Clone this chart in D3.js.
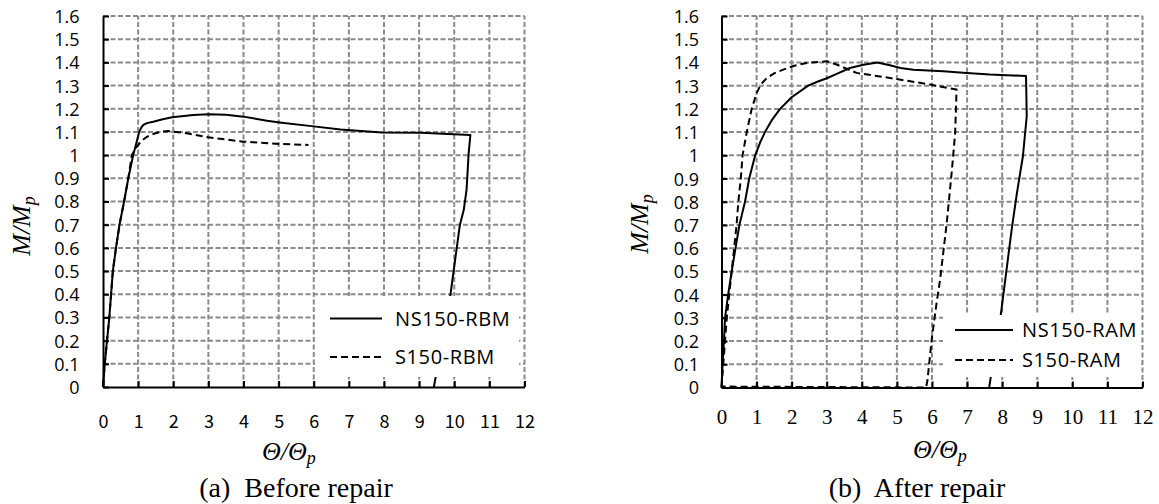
<!DOCTYPE html>
<meta charset="utf-8">
<head>
<title>M/Mp vs theta/theta_p</title>
<script src="https://d3js.org/d3.v7.min.js"></script>
</head>

<style>
body { margin: 0; background: #fff; }
svg { display: block; }
.grid line { stroke: #8a8a8a; stroke-width: 2; stroke-dasharray: 5,2.5; }
.axis path, .axis line { stroke: #000; stroke-width: 2; }
.ylab text { font-family: "Open Sans", sans-serif; font-size: 18px; fill: #000; }
.curve { fill: none; stroke: #000; stroke-width: 2; }
.dashed { stroke-dasharray: 7,4; }
.legend text { font-family: "Open Sans", sans-serif; font-size: 20px; letter-spacing: 0.6px; fill: #000; }
.title { font-family: "Liberation Serif", serif; font-style: italic; font-size: 26px; fill: #000; }
.caption { font-family: "Liberation Serif", serif; font-size: 28px; fill: #000; white-space: pre; }
</style>

<body>
<svg width="1159" height="504"></svg>

<script>
// tick values / labels
let xTicks = [0, 1, 2, 3, 4, 5, 6, 7, 8, 9, 10, 11, 12];
let yTicks = [0, 0.1, 0.2, 0.3, 0.4, 0.5, 0.6, 0.7, 0.8, 0.9, 1, 1.1, 1.2, 1.3, 1.4, 1.5, 1.6];
let yTickLabels = ["0", "0.1", "0.2", "0.3", "0.4", "0.5", "0.6", "0.7", "0.8", "0.9",
                   "1", "1.1", "1.2", "1.3", "1.4", "1.5", "1.6"];

// (a) before repair
let ns150RBM_x = [0, 0.05, 0.18, 0.28, 0.37, 0.47, 0.6, 0.72, 0.86, 1.03, 1.1, 1.15, 1.25, 1.43, 1.7, 1.97, 2.57, 3.0,
                  3.5, 4.0, 4.67, 5.03, 6.0, 6.76, 7.94, 9.04, 10.46, 10.41, 10.35, 10.27, 10.16, 9.89, 9.42];
let ns150RBM_y = [0, 0.1, 0.3, 0.5, 0.6, 0.7, 0.8, 0.9, 1.0, 1.1, 1.122, 1.13, 1.138, 1.144, 1.155, 1.163, 1.173, 1.176,
                  1.174, 1.166, 1.148, 1.141, 1.124, 1.111, 1.098, 1.097, 1.087, 1.008, 0.85, 0.763, 0.699, 0.397, 0];
let s150RBM_x = [0, 0.05, 0.18, 0.28, 0.37, 0.47, 0.6, 0.72, 0.82, 0.9, 0.96, 1.1, 1.25, 1.45, 1.62, 1.86, 2.39, 3.0, 4.0, 5.03, 5.85];
let s150RBM_y = [0, 0.1, 0.3, 0.5, 0.6, 0.7, 0.8, 0.9, 1.0, 1.022, 1.036, 1.062, 1.079, 1.092, 1.1, 1.104, 1.094, 1.077, 1.058, 1.048, 1.044];

// (b) after repair
let ns150RAM_x = [0, 0.03, 0.07, 0.1, 0.19, 0.29, 0.4, 0.51, 0.67, 0.79, 0.96, 1.1, 1.24, 1.45, 1.67, 2.0, 2.47, 2.75, 3.02,
                  3.3, 3.66, 4.05, 4.44, 4.8, 5.1, 5.47, 6.32, 6.99, 7.65, 8.3, 8.68, 8.7, 8.59, 8.42, 8.27, 8.1, 7.96, 7.67, 7.63];
let ns150RAM_y = [0, 0.1, 0.2, 0.3, 0.4, 0.5, 0.6, 0.7, 0.8, 0.9, 1.0, 1.055, 1.1, 1.155, 1.2, 1.25, 1.3, 1.318, 1.333,
                  1.352, 1.376, 1.39, 1.4, 1.388, 1.376, 1.369, 1.362, 1.355, 1.348, 1.344, 1.342, 1.168, 0.995, 0.837, 0.679, 0.478, 0.313, 0.04, 0];
let s150RAM_x = [0, 0.05, 0.15, 0.29, 0.36, 0.43, 0.48, 0.55, 0.6, 0.72, 0.86, 1.0, 1.12, 1.29, 1.5, 1.76, 2.1, 2.43, 3.0, 3.28,
                 3.85, 4.8, 5.94, 6.7, 6.66, 6.56, 6.42, 6.23, 6.13, 5.99, 5.87, 5.83, 0];
let s150RAM_y = [0, 0.1, 0.3, 0.5, 0.6, 0.7, 0.8, 0.9, 1.0, 1.1, 1.2, 1.268, 1.305, 1.333, 1.353, 1.369, 1.387, 1.398, 1.405, 1.391,
                 1.355, 1.333, 1.305, 1.283, 1.096, 0.924, 0.708, 0.464, 0.363, 0.205, 0.03, 0, 0.004];

let svg = d3.select("svg");

function zip(xs, ys) {
  return xs.map((v, i) => [v, ys[i]]);
}

function drawPanel(p) {
  let x = d3.scaleLinear().domain([0, 12]).range([p.left, p.right]);
  let y = d3.scaleLinear().domain([0, 1.6]).range([p.bottom, p.top]);
  let g = svg.append("g");

  // dashed grid
  let grid = g.append("g").attr("class", "grid");
  grid.selectAll(".gx").data(xTicks.slice(1)).enter().append("line")
    .attr("x1", d => x(d)).attr("x2", d => x(d))
    .attr("y1", y(0)).attr("y2", y(1.6));
  grid.selectAll(".gy").data(yTicks.slice(1)).enter().append("line")
    .attr("x1", x(0)).attr("x2", x(12))
    .attr("y1", d => y(d)).attr("y2", d => y(d));

  // curves
  let line = d3.line().x(d => x(d[0])).y(d => y(d[1]));
  p.series.forEach(s => {
    g.append("path")
      .attr("class", s.dashed ? "curve dashed" : "curve")
      .attr("stroke-linejoin", "round")
      .attr("d", line(zip(s.xs, s.ys)));
  });

  // legend box hides what is under it
  let lg = g.append("g").attr("class", "legend");
  lg.append("rect")
    .attr("x", p.legend.x).attr("y", p.legend.y)
    .attr("width", p.legend.w).attr("height", p.legend.h)
    .attr("fill", "#fff");
  p.series.forEach((s, i) => {
    let ly = p.legend.rows[i];
    lg.append("line")
      .attr("class", s.dashed ? "curve dashed" : "curve")
      .attr("x1", p.legend.lx1).attr("x2", p.legend.lx2)
      .attr("y1", ly).attr("y2", ly);
    lg.append("text")
      .attr("x", p.legend.tx).attr("y", ly + 7)
      .text(s.name);
  });

  // axes, ticks inside
  let ya = g.append("g").attr("class", "axis ylab")
    .attr("transform", "translate(" + x(0) + ",0)")
    .call(d3.axisLeft(y).tickValues(yTicks).tickSizeInner(-6).tickSizeOuter(0)
      .tickPadding(p.yPad).tickFormat((d, i) => yTickLabels[i]));
  ya.selectAll("text").attr("dy", "0.36em");

  let xa = g.append("g").attr("class", "axis")
    .attr("transform", "translate(0," + y(0) + ")")
    .call(d3.axisBottom(x).tickValues(xTicks).tickSizeInner(-6).tickSizeOuter(0));
  xa.selectAll("text")
    .attr("y", p.xLabY).attr("dy", 0)
    .style("font-family", p.xFont).style("font-size", p.xSize + "px").style("fill", "#000");

  // axis titles
  let yt = g.append("text").attr("class", "title")
    .attr("text-anchor", "middle")
    .attr("transform", "translate(" + p.yTitle[0] + "," + p.yTitle[1] + ") rotate(-90)");
  yt.append("tspan").text("M/M");
  yt.append("tspan").attr("dy", 5).attr("font-size", "18px").text("p");

  let xt = g.append("text").attr("class", "title")
    .attr("x", p.xTitle[0]).attr("y", p.xTitle[1]);
  xt.append("tspan").text("\u0398/\u0398");
  xt.append("tspan").attr("dy", 4).attr("font-size", "18px").text("p");

  g.append("text").attr("class", "caption")
    .attr("text-anchor", "middle")
    .attr("x", p.caption[0]).attr("y", p.caption[1])
    .text(p.captionText);
}

drawPanel({
  left: 103, right: 524.5, top: 16, bottom: 387,
  yPad: 23.5, xLabY: 41, xFont: "'Noto Sans CJK JP', sans-serif", xSize: 18,
  series: [
    {name: "NS150-RBM", xs: ns150RBM_x, ys: ns150RBM_y, dashed: false},
    {name: "S150-RBM", xs: s150RBM_x, ys: s150RBM_y, dashed: true}
  ],
  legend: {x: 315, y: 296, w: 204, h: 81, lx1: 330, lx2: 382, tx: 395, rows: [318.5, 357]},
  yTitle: [30, 226], xTitle: [262, 460],
  caption: [296, 497], captionText: "(a)  Before repair"
});

drawPanel({
  left: 721.5, right: 1142.5, top: 16, bottom: 387.5,
  yPad: 22.5, xLabY: 36, xFont: "'Liberation Serif', serif", xSize: 21,
  series: [
    {name: "NS150-RAM", xs: ns150RAM_x, ys: ns150RAM_y, dashed: false},
    {name: "S150-RAM", xs: s150RAM_x, ys: s150RAM_y, dashed: true}
  ],
  legend: {x: 943, y: 315, w: 196, h: 62, lx1: 955, lx2: 1013, tx: 1022, rows: [330, 360]},
  yTitle: [648, 224], xTitle: [913, 458],
  caption: [917, 497], captionText: "(b)  After repair"
});
</script>
</body>
